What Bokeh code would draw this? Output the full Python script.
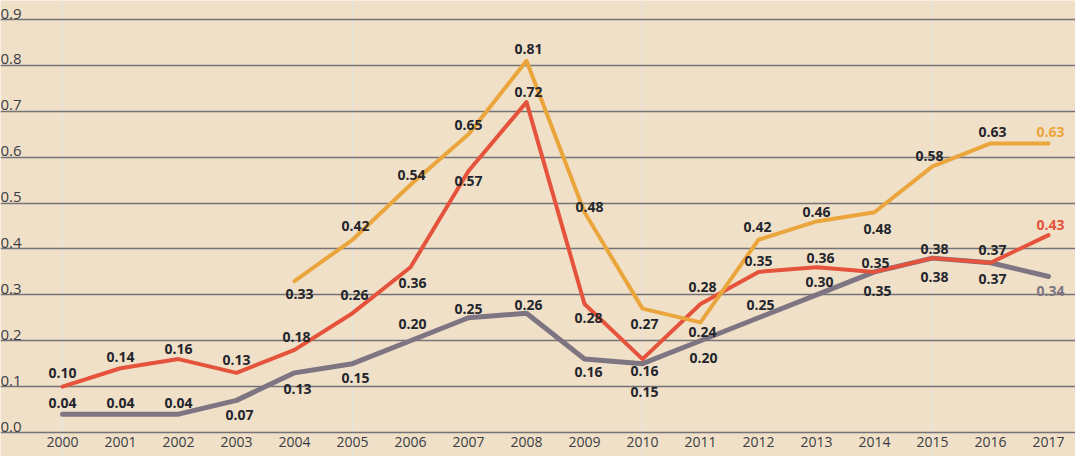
from bokeh.plotting import figure
from bokeh.models import ColumnDataSource, FixedTicker, Range1d, Grid
from bokeh.core.properties import value
from bokeh.embed import file_html
from bokeh.resources import INLINE

# ---------------- data ----------------
years = list(range(2000, 2018))
year_labels = [str(y) for y in years]
orange_vals = [None, None, None, None, 0.33, 0.42, 0.54, 0.65, 0.81, 0.48,
               0.27, 0.24, 0.42, 0.46, 0.48, 0.58, 0.63, 0.63]
red_vals = [0.10, 0.14, 0.16, 0.13, 0.18, 0.26, 0.36, 0.57, 0.72, 0.28,
            0.16, 0.28, 0.35, 0.36, 0.35, 0.38, 0.37, 0.43]
gray_vals = [0.04, 0.04, 0.04, 0.07, 0.13, 0.15, 0.20, 0.25, 0.26, 0.16,
             0.15, 0.20, 0.25, 0.30, 0.35, 0.38, 0.37, 0.34]
y_ticks = [0.0, 0.1, 0.2, 0.3, 0.4, 0.5, 0.6, 0.7, 0.8, 0.9]
y_tick_labels = ["0.0", "0.1", "0.2", "0.3", "0.4", "0.5", "0.6", "0.7", "0.8", "0.9"]

# ---------------- label placement (screen px) ----------------
red_dx = [0, 0, 0, 0, 2, 2, 2, 0, 2, 4, 2, 2, 0, 4, 1, 2, 2, 2]
red_dy = [-14, -11, -10, -13, -13, -18, 16, 10, -10, 14, 12, -17, -11, -9, -9, -9, -13, -10]
gray_dx = [0, 0, 0, 3, 3, 3, 2, 0, 2, 4, 2, 3, 2, 3, 3, 2, 2, 2]
gray_dy = [-11, -11, -11, 15, 16, 14, -17, -9, -8, 13, 28, 17, -13, -13, 19, 19, 16, 15]
orange_dx = [0, 0, 0, 0, 5, 3, 1, 0, 2, 5, 2, 2, -1, 0, 3, -3, 2, 2]
orange_dy = [0, 0, 0, 0, 13, -14, -10, -9, -12, -5, 15, 10, -13, -9, 17, -10, -11, -11]

# ---------------- styles ----------------
BG = "#F1E0C8"
ORANGE = "#EBA53D"
RED = "#E5533C"
GRAY = "#7D7582"
TEXT = "#24262D"
TICK = "#3A3C44"
GRID = "#66666B"

W, H = 1075, 456
x0_px, dx_px = 62.0, 58.0          # 2000 at 62px, 58px per year
y0_px, y9_px = 432.0, 19.0         # 0.0 and 0.9 gridlines
ppu = (y0_px - y9_px) / 0.9

x_start = 2000 - x0_px / dx_px
x_end = x_start + W / dx_px
y_start = -(H - y0_px) / ppu
y_end = 0.9 + y9_px / ppu

p = figure(width=W, height=H, output_backend="svg", toolbar_location=None,
           x_range=Range1d(x_start, x_end), y_range=Range1d(y_start, y_end),
           x_axis_location=None, y_axis_location=None, min_border=0,
           background_fill_color=BG, border_fill_color=BG,
           outline_line_color=None)

grid = Grid(dimension=1, ticker=FixedTicker(ticks=y_ticks),
            grid_line_color=GRID, grid_line_width=1.3, grid_line_alpha=0.9)
p.add_layout(grid)

nan = float("nan")
p.line(years, gray_vals, line_color=GRAY, line_width=5, line_join="round", line_cap="round")
p.line(years, red_vals, line_color=RED, line_width=4, line_join="round", line_cap="round")
p.line(years, [nan if v is None else v for v in orange_vals], line_color=ORANGE,
       line_width=4, line_join="round", line_cap="round")

# data labels
lx, ly, lt, ldx, ldy, lc = [], [], [], [], [], []
for series, dxs, dys, col in ((gray_vals, gray_dx, gray_dy, GRAY),
                              (red_vals, red_dx, red_dy, RED),
                              (orange_vals, orange_dx, orange_dy, ORANGE)):
    for i, (yr, v) in enumerate(zip(years, series)):
        if v is None:
            continue
        lx.append(yr)
        ly.append(v)
        lt.append(f"{v:.2f}")
        ldx.append(dxs[i])
        ldy.append(dys[i])
        lc.append(col if i == len(years) - 1 else TEXT)

src = ColumnDataSource(dict(x=lx, y=ly, text=lt, dx=ldx, dy=ldy, c=lc))
p.text(x="x", y="y", text="text", x_offset="dx", y_offset="dy", source=src,
       text_color="c", text_font=value("Open Sans"), text_font_style="bold",
       text_font_size="14px", text_align="center", text_baseline="middle")

# y tick labels
p.text(x=[x_start] * len(y_ticks), y=y_ticks, text=y_tick_labels,
       x_offset=0, y_offset=-1, text_color=TICK, text_font=value("Open Sans"),
       text_font_size="15px", text_align="left", text_baseline="bottom")

# x tick labels
p.text(x=years, y=[0.0] * len(years), text=year_labels, x_offset=0, y_offset=4,
       text_color=TICK, text_font=value("Open Sans"), text_font_size="14px",
       text_align="center", text_baseline="top")

open("out.html", "w").write(file_html(p, INLINE))
